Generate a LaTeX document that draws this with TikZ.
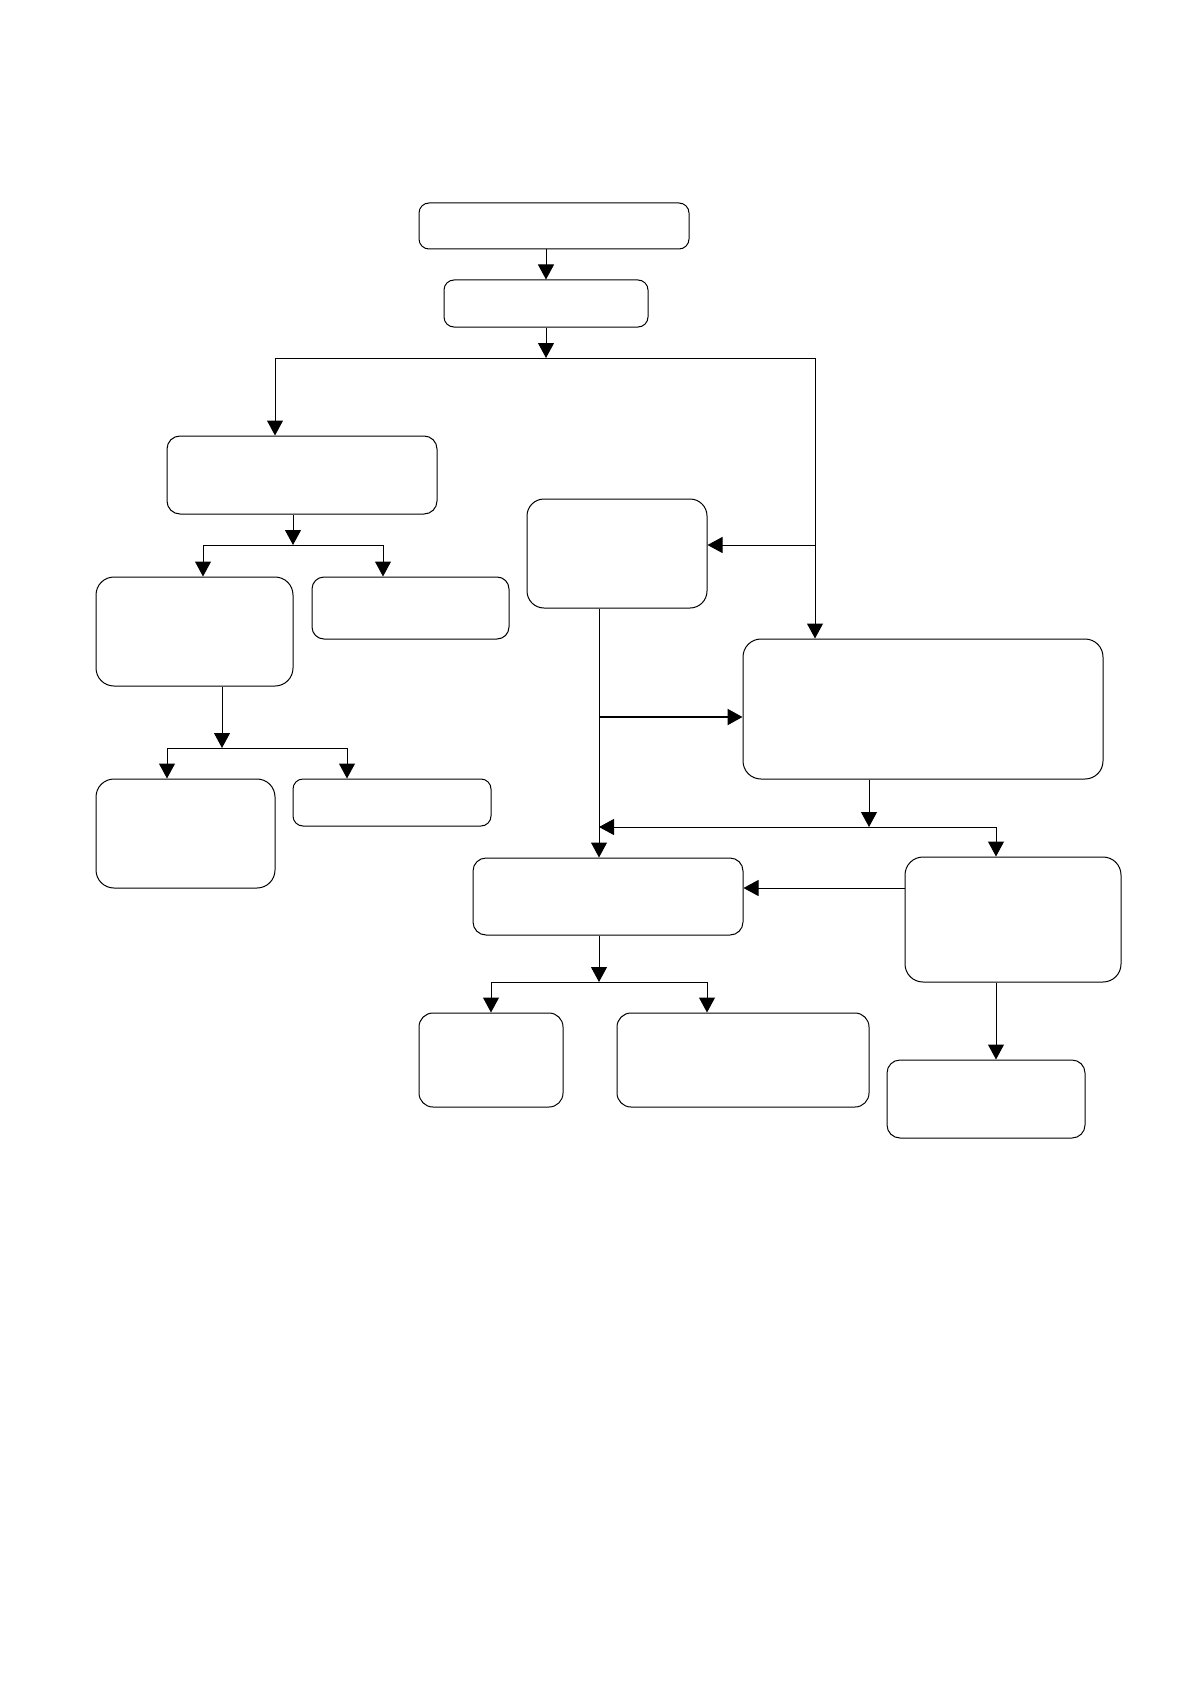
\documentclass[tikz,border=0pt]{standalone}
\usetikzlibrary{arrows.meta}
\begin{document}
\begin{tikzpicture}[x=1pt, y=-1pt, line width=1pt,
	box/.style={draw, rounded corners=#1, inner sep=0pt},
	box/.default=11pt,
	arr/.style={-{Triangle[length=15pt,width=16pt]}}]
	\useasboundingbox (0,0) rectangle (1191,1685);
	\node[box=10pt, minimum width=270pt, minimum height=46pt] (a) at (554,226) {};
	\node[box=10pt, minimum width=204pt, minimum height=47pt] (b) at (546,303.5) {};
	\node[box=13pt, minimum width=270pt, minimum height=78pt] (c) at (302,475) {};
	\node[box=18pt, minimum width=197pt, minimum height=109pt] (d) at (194.5,631.5) {};
	\node[box=12pt, minimum width=197pt, minimum height=62pt] (e) at (410.5,608) {};
	\node[box=18pt, minimum width=179pt, minimum height=109pt] (f) at (185.5,833.5) {};
	\node[box=10pt, minimum width=198pt, minimum height=47pt] (g) at (392,802.5) {};
	\node[box=17pt, minimum width=180pt, minimum height=109pt] (h) at (617,553.5) {};
	\node[box=18pt, minimum width=360pt, minimum height=140pt] (i) at (923,709) {};
	\node[box=13pt, minimum width=270pt, minimum height=77pt] (j) at (608,896.5) {};
	\node[box=18pt, minimum width=216pt, minimum height=125pt] (k) at (1013,919.5) {};
	\node[box=14pt, minimum width=144pt, minimum height=94pt] (l) at (491,1060) {};
	\node[box=14pt, minimum width=252pt, minimum height=94pt] (m) at (743,1060) {};
	\node[box=13pt, minimum width=198pt, minimum height=78pt] (n) at (986,1099) {};

	\coordinate (j1) at (546,358);
	\coordinate (c1) at (275,358);
	\coordinate (c2) at (815,358);
	\coordinate (hj) at (815,545);
	\coordinate (j2) at (293,545);
	\coordinate (d1) at (203,545);
	\coordinate (e1) at (383,545);
	\coordinate (j3) at (222,748);
	\coordinate (f1) at (167,748);
	\coordinate (g1) at (347,748);
	\coordinate (h1) at (599,717);
	\coordinate (j4) at (869,827);
	\coordinate (k1) at (996,827);
	\coordinate (kj) at (905,888);
	\coordinate (j5) at (599,982);
	\coordinate (l1) at (491,982);
	\coordinate (m1) at (707,982);

	\draw[arr] (b.north |- a.south) -- (b.north);
	\draw[arr] (b.south) -- (j1);
	\draw (c1) -- (c2);
	\draw[arr] (c1) -- (c1 |- c.north);
	\draw[arr] (c2) -- (c2 |- i.north);
	\draw[arr] (hj) -- (hj -| h.east);
	\draw[arr] (j2 |- c.south) -- (j2);
	\draw (d1) -- (e1);
	\draw[arr] (d1) -- (d1 |- d.north);
	\draw[arr] (e1) -- (e1 |- e.north);
	\draw[arr] (j3 |- d.south) -- (j3);
	\draw (f1) -- (g1);
	\draw[arr] (f1) -- (f1 |- f.north);
	\draw[arr] (g1) -- (g1 |- g.north);
	\draw[arr] (h1 |- h.south) -- (h1 |- j.north);
	\draw[arr, line width=2.2pt] (h1) -- (h1 -| i.west);
	\draw[arr] (j4 |- i.south) -- (j4);
	\draw[arr] (k1) -- (h1 |- k1);
	\draw[arr] (k1) -- (k1 |- k.north);
	\draw[arr] (kj) -- (kj -| j.east);
	\draw[arr] (j5 |- j.south) -- (j5);
	\draw (l1) -- (m1);
	\draw[arr] (l1) -- (l1 |- l.north);
	\draw[arr] (m1) -- (m1 |- m.north);
	\draw[arr] (k1 |- k.south) -- (k1 |- n.north);
\end{tikzpicture}
\end{document}
